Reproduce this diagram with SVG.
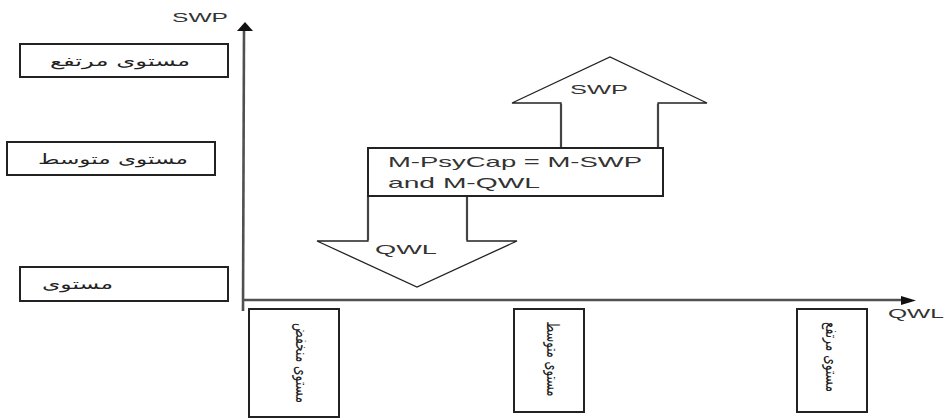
<svg xmlns="http://www.w3.org/2000/svg" width="946" height="420" viewBox="0 0 946 420">
  <style>
    .box { fill: #fff; stroke: #222; stroke-width: 2; }
    .blk { fill: #fff; stroke: #222; stroke-width: 1.3; stroke-linejoin: miter; }
    .shaft { fill: none; stroke: #444; stroke-width: 2.2; }
    .axis { fill: none; stroke: #505050; stroke-width: 2.6; }
    .lat { font-family: "Liberation Sans", Arial, sans-serif; fill: #333; }
    .ar { font-family: "DejaVu Sans", "Noto Sans", sans-serif; font-size: 14px; fill: #222; }
    .arv { font-family: "DejaVu Sans", "Noto Sans", sans-serif; font-size: 17px; fill: #222; }
  </style>

  <!-- axes -->
  <g id="connectors">
    <line class="axis" x1="244" y1="30" x2="243" y2="311"/>
    <polygon points="237,31 245,22 253,31" fill="#111"/>
    <line class="axis" x1="242" y1="300" x2="903" y2="300"/>
    <polygon points="901,296 916,300.5 901,305" fill="#111"/>
  </g>

  <g id="axis-label-swp">
    <text class="lat" x="172" y="22" font-size="13" textLength="56" lengthAdjust="spacingAndGlyphs">SWP</text>
  </g>
  <g id="axis-label-qwl">
    <text class="lat" x="888" y="318" font-size="13" textLength="56" lengthAdjust="spacingAndGlyphs">QWL</text>
  </g>

  <!-- vertical scale (SWP levels) -->
  <g id="swp-high">
    <rect class="box" x="20" y="44" width="208" height="33"/>
    <text class="ar" x="190" y="66" text-anchor="end" textLength="140" lengthAdjust="spacingAndGlyphs">مستوى مرتفع</text>
  </g>
  <g id="swp-mid">
    <rect class="box" x="7" y="142" width="208" height="33"/>
    <text class="ar" x="188" y="164" text-anchor="end" textLength="150" lengthAdjust="spacingAndGlyphs">مستوى متوسط</text>
  </g>
  <g id="swp-low">
    <rect class="box" x="20" y="267" width="208" height="34"/>
    <text class="ar" x="113" y="289" text-anchor="end" textLength="71" lengthAdjust="spacingAndGlyphs">مستوى</text>
  </g>

  <!-- horizontal scale (QWL levels) -->
  <g id="qwl-low">
    <rect class="box" x="249" y="309" width="90" height="108"/>
    <text class="arv" transform="translate(302,363) rotate(90)" x="0" y="0" text-anchor="middle" dominant-baseline="central" textLength="80" lengthAdjust="spacingAndGlyphs">مستوى منخفض</text>
  </g>
  <g id="qwl-mid">
    <rect class="box" x="514" y="309" width="70" height="103"/>
    <text class="arv" transform="translate(553,359) rotate(90)" x="0" y="0" text-anchor="middle" dominant-baseline="central" textLength="75" lengthAdjust="spacingAndGlyphs">مستوى متوسط</text>
  </g>
  <g id="qwl-high">
    <rect class="box" x="797" y="309" width="70" height="103"/>
    <text class="arv" transform="translate(832,357) rotate(90)" x="0" y="0" text-anchor="middle" dominant-baseline="central" textLength="70" lengthAdjust="spacingAndGlyphs">مستوى مرتفع</text>
  </g>

  <!-- block arrow up: SWP -->
  <g id="arrow-swp">
    <polygon class="blk" points="512,103 610,57 707,103 658,103 658,148 561,148 561,103"/>
    <line class="shaft" x1="561" y1="104" x2="561" y2="148"/>
    <line class="shaft" x1="658" y1="104" x2="658" y2="148"/>
    <text class="lat" x="570" y="94" font-size="13" textLength="58" lengthAdjust="spacingAndGlyphs">SWP</text>
  </g>

  <!-- block arrow down: QWL -->
  <g id="arrow-qwl">
    <polygon class="blk" points="368,196 467,196 467,241 517,241 417,287 317,241 368,241"/>
    <line class="shaft" x1="368" y1="196" x2="368" y2="240"/>
    <line class="shaft" x1="467" y1="196" x2="467" y2="240"/>
    <text class="lat" x="375" y="254" font-size="13" textLength="62" lengthAdjust="spacingAndGlyphs">QWL</text>
  </g>

  <!-- central statement -->
  <g id="m-psycap">
    <rect class="box" x="368" y="148" width="295" height="48"/>
    <text class="lat" x="388" y="167" font-size="15" textLength="254" lengthAdjust="spacingAndGlyphs">M-PsyCap = M-SWP</text>
    <text class="lat" x="388" y="188" font-size="15" textLength="152" lengthAdjust="spacingAndGlyphs">and M-QWL</text>
  </g>
</svg>
